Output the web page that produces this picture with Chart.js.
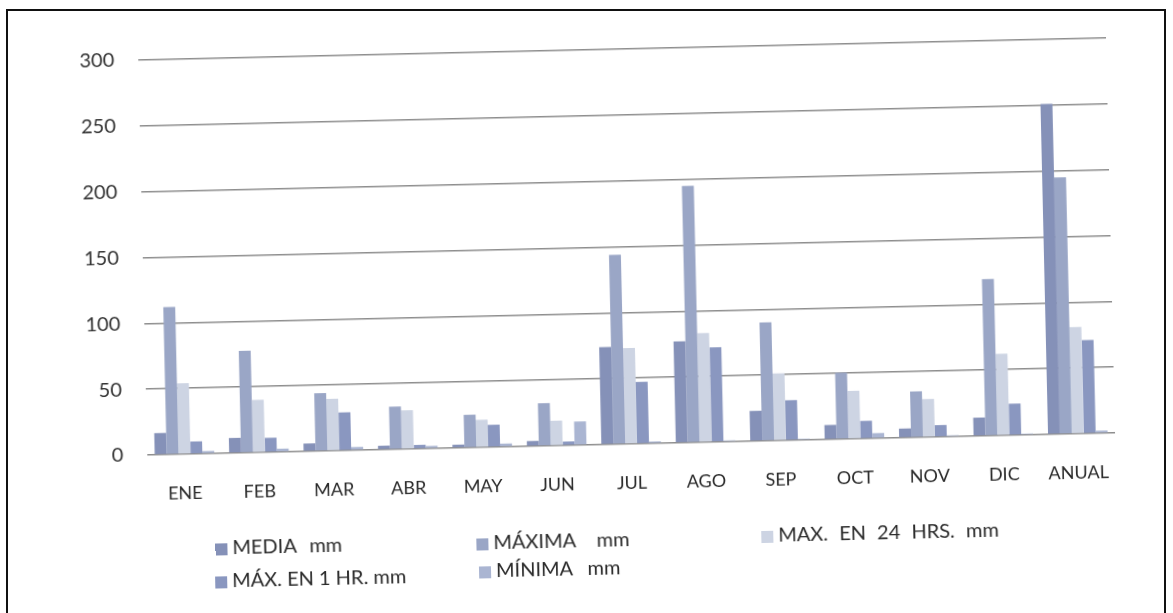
<!DOCTYPE html>
<html>
<head>
<meta charset="utf-8">
<script src="https://cdn.jsdelivr.net/npm/chart.js@4/dist/chart.umd.min.js"></script>
<style>
  html, body { margin: 0; padding: 0; background: #ffffff; }
  body { width: 1173px; height: 613px; position: relative; overflow: hidden; }
  #frame { position: absolute; left: 6px; top: 9px; width: 1160px; height: 700px;
           border: 2px solid #111; box-sizing: border-box; }
  #rot { position: absolute; left: 0; top: 0; width: 1173px; height: 613px;
         transform: rotate(-1.31deg); transform-origin: 586px 306px; }
  #c { position: absolute; left: 0; top: 0; }
  .lg { position: absolute; font-family: Lato, "Open Sans", sans-serif; font-size: 20px;
        color: #2a2a2a; white-space: nowrap; line-height: 20px; }
  .lg i { display: inline-block; width: 12px; height: 12px; margin-right: 5px; vertical-align: -1px; }
</style>
</head>
<body>
<div id="frame"></div>
<div id="rot">
  <canvas id="c" width="1173" height="613"></canvas>
  <div id="legend"></div>
</div>
<script>
const categories = ['ENE','FEB','MAR','ABR','MAY','JUN','JUL','AGO','SEP','OCT','NOV','DIC','ANUAL'];
const seriesNames = ['MEDIA mm', 'MÁXIMA mm', 'MAX. EN 24 HRS. mm', 'MÁX. EN 1 HR. mm', 'MÍNIMA mm'];
const media  = [16.5, 11.5, 6, 3, 2.5, 4, 74, 77, 23, 11, 7, 14, 251];
const maxima = [112, 77.5, 44, 32.5, 25, 32.5, 144, 195, 90, 50.5, 35, 119, 195];
const max24  = [54, 40, 39.5, 29.5, 21, 19, 73, 83, 51, 36.5, 29, 62, 81];
const max1hr = [9.5, 11, 29, 3, 17, 3, 47, 72, 30.5, 13.5, 9, 24, 71];
const minima = [2, 2.5, 2.5, 2, 2.5, 18, 1.5, 1, 1, 4, 1, 1, 2];
const yTicks = [0, 50, 100, 150, 200, 250, 300];

const colors = ['#8591b8', '#9aa6c6', '#cdd4e3', '#8a97c0', '#aab5d2'];
const values = [media, maxima, max24, max1hr, minima];

const chart = new Chart(document.getElementById('c'), {
  type: 'bar',
  data: {
    labels: categories,
    datasets: values.map((v, i) => ({
      label: seriesNames[i],
      data: v,
      backgroundColor: colors[i],
      borderWidth: 0,
      categoryPercentage: 0.8,
      barPercentage: 1.0
    }))
  },
  options: {
    responsive: false,
    animation: false,
    devicePixelRatio: 1,
    layout: { padding: { left: 0, top: 50, right: 61, bottom: 108 } },
    plugins: { legend: { display: false }, tooltip: { enabled: false } },
    scales: {
      x: {
        grid: { display: false, drawTicks: false },
        border: { display: false },
        ticks: { font: { family: 'Lato', size: 18 }, color: '#2a2a2a', padding: 28, maxRotation: 0 },
        afterFit: s => { s.height = 60; }
      },
      y: {
        min: 0, max: 300,
        afterBuildTicks: s => { s.ticks = yTicks.map(v => ({ value: v })); },
        grid: { color: '#8e8e8e', lineWidth: 1.4, drawTicks: false },
        border: { display: false },
        ticks: { font: { family: 'Lato', size: 20 }, color: '#333333', padding: 24 },
        afterFit: s => { s.width = 144; }
      }
    }
  }
});

// HTML legend built from the chart's datasets
const legendPos = [[210, 528], [471, 529], [756, 528], [209, 561], [473, 557]];
const wordGap = [8, 16, 6, 0, 10];
const lg = document.getElementById('legend');
chart.data.datasets.forEach((ds, i) => {
  const d = document.createElement('div');
  d.className = 'lg';
  d.style.left = legendPos[i][0] + 'px';
  d.style.top = legendPos[i][1] + 'px';
  d.style.wordSpacing = wordGap[i] + 'px';
  const sw = document.createElement('i');
  sw.style.background = ds.backgroundColor;
  d.appendChild(sw);
  d.appendChild(document.createTextNode(ds.label));
  lg.appendChild(d);
});
</script>
</body>
</html>
